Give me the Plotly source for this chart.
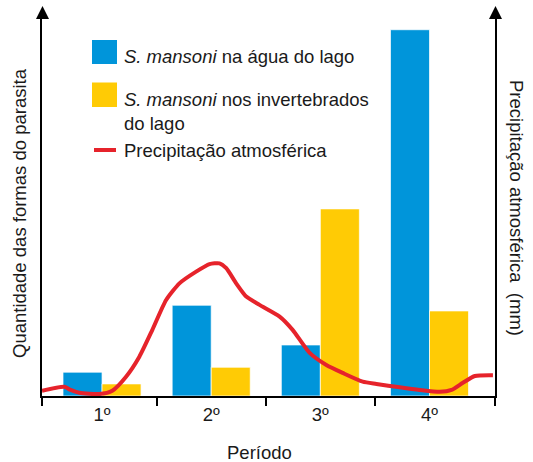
import plotly.graph_objects as go

# ---- data (arbitrary units, 0-100 scale) ----
periods = [1, 2, 3, 4]
period_labels = ["1º", "2º", "3º", "4º"]
agua_lago = [6.3, 24.0, 13.5, 96.9]          # S. mansoni na água do lago
invertebrados = [3.2, 7.6, 49.5, 22.5]       # S. mansoni nos invertebrados do lago
precip_x = [0.45, 0.654, 0.70, 0.792, 0.975, 1.094, 1.22, 1.342, 1.461, 1.587,
            1.709, 1.862, 1.984, 2.076, 2.138, 2.229, 2.321, 2.443, 2.627, 2.746,
            2.902, 3.055, 3.205, 3.388, 3.514, 3.727, 3.911, 4.094, 4.202, 4.306,
            4.416, 4.581]
precip_y = [1.4, 2.46, 1.77, 0.87, 0.53, 1.4, 5.1, 10.4, 17.5, 25.4,
            29.8, 32.9, 34.9, 35.1, 33.8, 29.8, 26.3, 24.1, 21.0, 17.5,
            11.4, 8.2, 6.1, 3.8, 3.2, 2.3, 1.6, 1.1, 1.6, 3.5,
            5.3, 5.5]
boundaries = [0.45, 1.5, 2.5, 3.5, 4.6]

BLUE = "#0095DA"
YELLOW = "#FFCB05"
RED = "#E6232B"
FONT = "Liberation Sans, Arial, sans-serif"
FS = 18.5
TXT = "#1a1a1a"

W, H = 533, 462
ML, MR, MT, MB = 42, 38, 18, 66
PW, PH = W - ML - MR, H - MT - MB


def px(x):
    return (x - ML) / PW


def py(y):
    return (H - MB - y) / PH


fig = go.Figure()
fig.add_trace(go.Bar(x=periods, y=agua_lago, name="S. mansoni na água do lago",
                     marker=dict(color=BLUE, line=dict(color="rgba(255,255,255,0.7)", width=1)),
                     showlegend=False))
fig.add_trace(go.Bar(x=periods, y=invertebrados, name="S. mansoni nos invertebrados do lago",
                     marker=dict(color=YELLOW, line=dict(color="rgba(255,255,255,0.7)", width=1)),
                     showlegend=False))
fig.add_trace(go.Scatter(x=precip_x, y=precip_y, yaxis="y2", mode="lines",
                         name="Precipitação atmosférica",
                         line=dict(color=RED, width=4, shape="spline", smoothing=0.6),
                         showlegend=False))

# manual legend
shapes = [
    dict(type="rect", xref="paper", yref="paper", x0=px(92), x1=px(117), y0=py(64), y1=py(40),
         fillcolor=BLUE, line=dict(width=0)),
    dict(type="rect", xref="paper", yref="paper", x0=px(92), x1=px(117), y0=py(107), y1=py(82.5),
         fillcolor=YELLOW, line=dict(width=0)),
    dict(type="line", xref="paper", yref="paper", x0=px(94), x1=px(116), y0=py(150), y1=py(150),
         line=dict(color=RED, width=4)),
    # axis arrowheads
    dict(type="path", xref="paper", yref="paper",
         path=f"M {px(36)},{py(19)} L {px(42.5)},{py(6)} L {px(49)},{py(19)} Z",
         fillcolor="black", line=dict(width=0)),
    dict(type="path", xref="paper", yref="paper",
         path=f"M {px(489)},{py(19)} L {px(495.5)},{py(6)} L {px(502)},{py(19)} Z",
         fillcolor="black", line=dict(width=0)),
]

ann_font = dict(family=FONT, size=FS, color=TXT)
annotations = [
    dict(xref="paper", yref="paper", x=px(122), y=py(57), xanchor="left", yanchor="middle",
         text="<i>S. mansoni</i> na água do lago", showarrow=False, font=ann_font),
    dict(xref="paper", yref="paper", x=px(122), y=py(111), xanchor="left", yanchor="middle",
         text="<i>S. mansoni</i> nos invertebrados<br>do lago", showarrow=False, font=ann_font,
         align="left"),
    dict(xref="paper", yref="paper", x=px(122), y=py(150), xanchor="left", yanchor="middle",
         text="Precipitação atmosférica", showarrow=False, font=ann_font),
    dict(xref="paper", yref="paper", x=px(20), y=py(213), xanchor="center", yanchor="middle",
         text="Quantidade das formas do parasita", textangle=-90, showarrow=False, font=ann_font),
    dict(xref="paper", yref="paper", x=px(517), y=py(208), xanchor="center", yanchor="middle",
         text="Precipitação atmosférica  (mm)", textangle=90, showarrow=False, font=ann_font),
    dict(xref="paper", yref="paper", x=px(259), y=py(452), xanchor="center", yanchor="middle",
         text="Período", showarrow=False, font=ann_font),
]

fig.update_layout(
    width=W, height=H,
    margin=dict(l=ML, r=MR, t=MT, b=MB),
    paper_bgcolor="white", plot_bgcolor="white",
    barmode="group", bargap=0.285, bargroupgap=0,
    font=dict(family=FONT, size=FS, color=TXT),
    xaxis=dict(range=[boundaries[0], boundaries[-1]], tickmode="array", tickvals=periods,
               ticktext=period_labels, ticks="outside", ticklen=1, tickcolor="rgba(0,0,0,0)",
               showline=True, linecolor="black", linewidth=1.5, showgrid=False, zeroline=False,
               tickfont=dict(family=FONT, size=FS, color=TXT),
               minor=dict(tickmode="array", tickvals=boundaries, ticks="outside", ticklen=8,
                          tickcolor="black", tickwidth=1.5, showgrid=False)),
    yaxis=dict(range=[0, 100], showline=True, linecolor="black", linewidth=1.5,
               showticklabels=False, ticks="", showgrid=False, zeroline=False),
    yaxis2=dict(range=[0, 100], overlaying="y", side="right", showline=True, linecolor="black",
                linewidth=1.5, showticklabels=False, ticks="", showgrid=False, zeroline=False),
    shapes=shapes,
    annotations=annotations,
    showlegend=False,
)

fig.write_html("out.html", config={"displayModeBar": False},
               post_script="document.body.style.margin='0';document.body.style.padding='0';")
